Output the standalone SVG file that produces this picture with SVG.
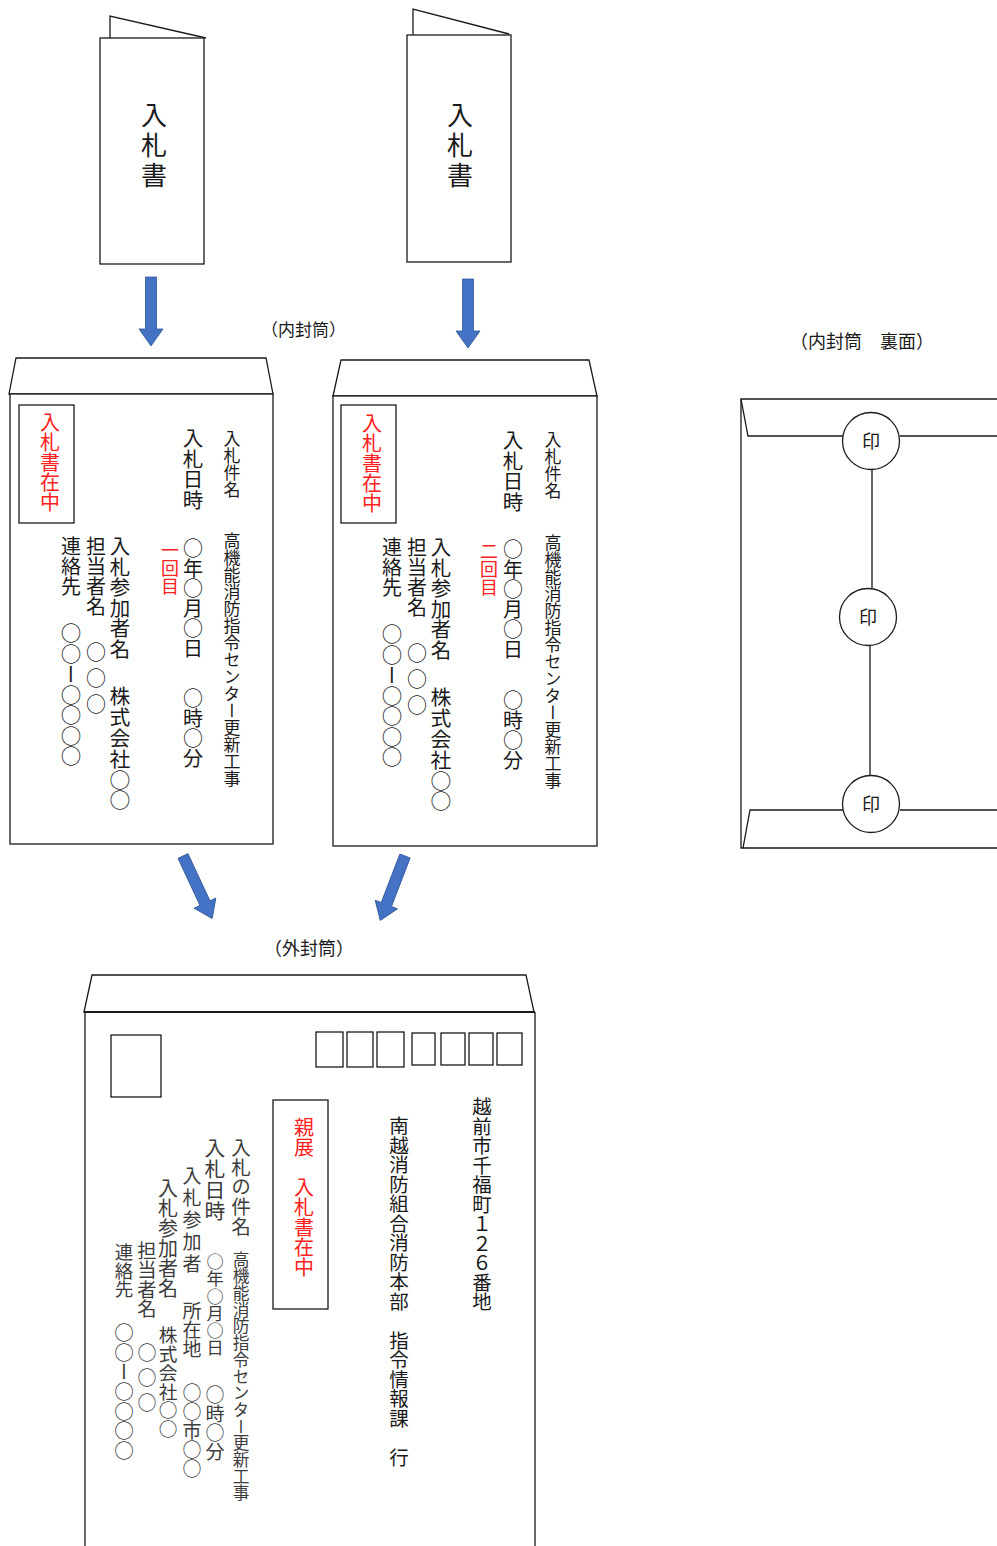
<svg xmlns="http://www.w3.org/2000/svg" width="997" height="1546" viewBox="0 0 997 1546">
<style>
.ln{fill:none;stroke:#1a1a1a;stroke-width:1.3}
.bx{fill:#fff;stroke:#1a1a1a;stroke-width:1.3}
.th{fill:none;stroke:#1a1a1a;stroke-width:2.2}
.v{writing-mode:vertical-rl;font-family:"Noto Sans CJK JP",sans-serif;fill:#1a1a1a}
.g{fill:#3c3c3c}
.red{fill:#ff2020}
.h{font-family:"Noto Sans CJK JP",sans-serif;fill:#1a1a1a}
.arr{fill:#4472C4;stroke:#2F5597;stroke-width:0.8}
.seal{fill:#fff;stroke:#1a1a1a;stroke-width:1.3}
</style>
<defs>
<path id="arrow" d="M-5.5,0 H5.5 V52 H12 L0,69 L-12,52 H-5.5 Z"/>
</defs>
<rect width="997" height="1546" fill="#fff"/>

<g id="doc1">
<path class="ln" d="M110,38 V16 L206,38"/>
<rect class="bx" x="100" y="38" width="104" height="226"/>
<text class="v" x="154" y="102" font-size="26" letter-spacing="4">入札書</text>
</g>

<g id="doc2">
<path class="ln" d="M413,35 V9 L509,34"/>
<rect class="bx" x="407" y="35" width="104" height="227"/>
<text class="v" x="460" y="102" font-size="26" letter-spacing="4">入札書</text>
</g>

<g id="label-inner">
<text class="h" x="261" y="336" font-size="17">（内封筒）</text>
</g>

<g id="inner-envelope-1">
<path class="bx" d="M9,394 L16,358 H266 L273,394 Z"/>
<rect class="bx" x="10" y="394" width="263" height="450"/>
<rect class="bx" x="19" y="405" width="55" height="118"/>
<text class="v red" x="50" y="412" font-size="20">入札書在中</text>
<text class="v" x="232" y="430" font-size="17">入札件名</text>
<text class="v" x="232" y="532" font-size="17">高機能消防指令センター更新工事</text>
<text class="v" x="193" y="428" font-size="20.5">入札日時</text>
<text class="v" x="193" y="538" font-size="20">○年○月○日</text>
<text class="v" x="193" y="688" font-size="20">○時○分</text>
<text class="v red" x="170" y="541" font-size="18">一回目</text>
<text class="v" x="120" y="536" font-size="20.5">入札参加者名</text>
<text class="v" x="120" y="686" font-size="20.8">株式会社○○</text>
<text class="v" x="96" y="536" font-size="20">担当者名</text>
<text class="v" x="96" y="642" font-size="20" letter-spacing="6">○○○</text>
<text class="v" x="71" y="536" font-size="20">連絡先</text>
<text class="v" x="71" y="623" font-size="20.5">○○ー○○○○</text>
</g>

<g id="inner-envelope-2">
<path class="bx" d="M333,396 L341,360 H589 L597,396 Z"/>
<rect class="bx" x="333" y="396" width="264" height="450"/>
<rect class="bx" x="341" y="405" width="55" height="118"/>
<text class="v red" x="372" y="413" font-size="20">入札書在中</text>
<text class="v" x="553" y="431" font-size="17">入札件名</text>
<text class="v" x="553" y="534" font-size="17">高機能消防指令センター更新工事</text>
<text class="v" x="513" y="430" font-size="20.5">入札日時</text>
<text class="v" x="513" y="539" font-size="20">○年○月○日</text>
<text class="v" x="513" y="690" font-size="20">○時○分</text>
<text class="v red" x="489" y="542" font-size="18">二回目</text>
<text class="v" x="441" y="537" font-size="20.5">入札参加者名</text>
<text class="v" x="441" y="687" font-size="20.8">株式会社○○</text>
<text class="v" x="417" y="537" font-size="20">担当者名</text>
<text class="v" x="417" y="643" font-size="20" letter-spacing="6">○○○</text>
<text class="v" x="392" y="537" font-size="20">連絡先</text>
<text class="v" x="392" y="624" font-size="20.5">○○ー○○○○</text>
</g>

<g id="label-back">
<text class="h" x="790" y="348" font-size="18">（内封筒　裏面）</text>
</g>

<g id="inner-envelope-back">
<path class="ln" d="M997,399 H741 V848 H997"/>
<path class="ln" d="M741,399 L748,436 H843 M900,436 H997"/>
<path class="ln" d="M743,848 L750,810 H843 M900,810 H997"/>
<path class="ln" d="M872,470 V588 M870,646 V775"/>
<circle class="seal" cx="871" cy="441" r="28.5"/>
<circle class="seal" cx="868" cy="617" r="28.5"/>
<circle class="seal" cx="871" cy="804" r="28.5"/>
<text class="h" x="871" y="448" font-size="18" text-anchor="middle">印</text>
<text class="h" x="868" y="624" font-size="18" text-anchor="middle">印</text>
<text class="h" x="871" y="811" font-size="18" text-anchor="middle">印</text>
</g>

<g id="label-outer">
<text class="h" x="264" y="955" font-size="18">（外封筒）</text>
</g>

<g id="outer-envelope">
<path class="bx" d="M84,1012 L92,975 H526 L534,1012 Z"/>
<path class="ln" d="M85,1012 V1546 M535,1012 V1546"/>
<path class="th" d="M84,1012 H535"/>
<rect class="bx" x="111" y="1035" width="50" height="62"/>
<rect class="bx" x="316" y="1032" width="27" height="35"/>
<rect class="bx" x="347" y="1032" width="26" height="35"/>
<rect class="bx" x="377" y="1032" width="27" height="35"/>
<rect class="bx" x="412" y="1033" width="23" height="32"/>
<rect class="bx" x="441" y="1033" width="24" height="32"/>
<rect class="bx" x="469" y="1033" width="24" height="32"/>
<rect class="bx" x="497" y="1033" width="25" height="32"/>
<text class="v" x="482" y="1097" font-size="19.5">越前市千福町１２６番地</text>
<text class="v" x="399" y="1116" font-size="19.5">南越消防組合消防本部　指令情報課　行</text>
<rect class="bx" x="273" y="1100" width="55" height="209"/>
<text class="v red" x="304" y="1117" font-size="20">親展　入札書在中</text>
<text class="v g" x="241" y="1138" font-size="19.6">入札の件名</text>
<text class="v g" x="241" y="1251" font-size="16.7">高機能消防指令センター更新工事</text>
<text class="v g" x="215" y="1138" font-size="20.8">入札日時</text>
<text class="v g" x="215" y="1253" font-size="17.2">○年○月○日</text>
<text class="v g" x="215" y="1385" font-size="19">○時○分</text>
<text class="v g" x="192" y="1166" font-size="19" letter-spacing="3">入札参加者</text>
<text class="v g" x="192" y="1301" font-size="19">所在地</text>
<text class="v g" x="192" y="1383" font-size="19">○○市○○</text>
<text class="v g" x="168" y="1178" font-size="20">入札参加者名</text>
<text class="v g" x="168" y="1326" font-size="18.7">株式会社○○</text>
<text class="v g" x="147" y="1241" font-size="19.3">担当者名</text>
<text class="v g" x="147" y="1343" font-size="19" letter-spacing="6">○○○</text>
<text class="v g" x="124" y="1243" font-size="18.5">連絡先</text>
<text class="v g" x="124" y="1323" font-size="19.6">○○ー○○○○</text>
</g>

<g id="connectors">
<use href="#arrow" class="arr" transform="translate(151,277)"/>
<use href="#arrow" class="arr" transform="translate(468,279)"/>
<use href="#arrow" class="arr" transform="translate(183,856) rotate(-25)"/>
<use href="#arrow" class="arr" transform="translate(405,856) rotate(21)"/>
</g>
</svg>
